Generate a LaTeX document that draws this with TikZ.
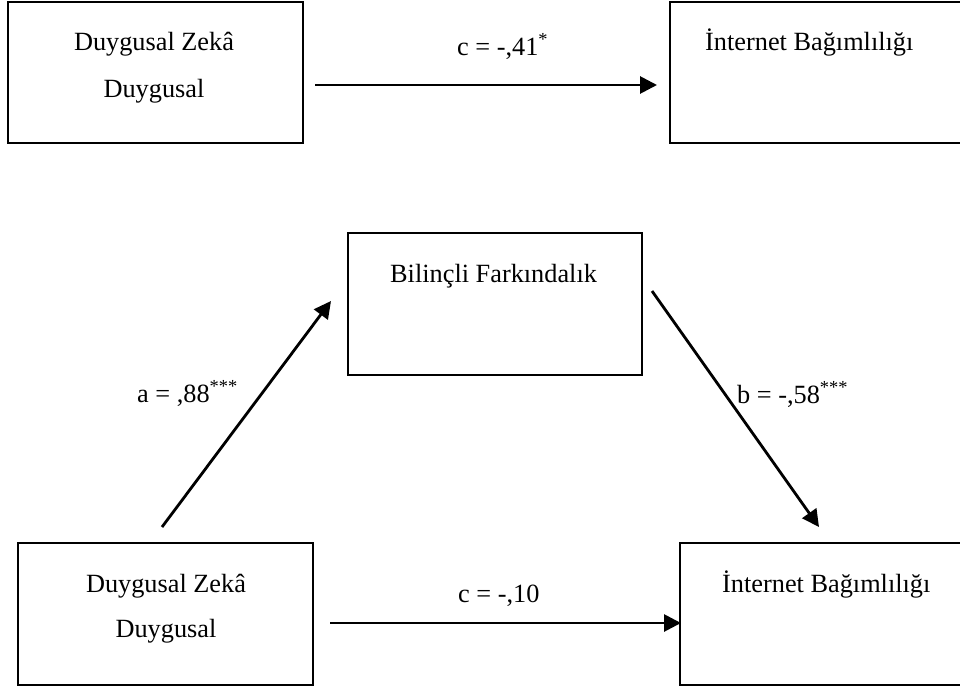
\documentclass[tikz,border=0pt]{standalone}
\usepackage{fontspec}
\setmainfont{Liberation Serif}
\usetikzlibrary{arrows.meta}
\begin{document}
\begin{tikzpicture}[x=1pt,y=-1pt,
  box/.style={draw=black,line width=2pt,fill=none},
  txt/.style={inner sep=0pt,anchor=base,font=\fontsize{26.3}{30}\selectfont},
  txtw/.style={inner sep=0pt,anchor=base west,font=\fontsize{26.3}{30}\selectfont},
  arr/.style={line width=2.8pt,-{Triangle[length=17pt,width=17pt]}}]
\useasboundingbox (0,0) rectangle (960,688);
\clip (0,0) rectangle (960,688);
\fill[white] (0,0) rectangle (960,688);
% top row
\draw[box] (8,1.5) rectangle (303,143);
\draw[box] (670,2) rectangle (1000,143);
\node[txt] (t1) at (154,50) {Duygusal Zekâ};
\node[txt] (t2) at (154,97) {Duygusal};
\node[txtw] (t3) at (705,50) {İnternet Bağımlılığı};
\coordinate (c1s) at (315,85);
\coordinate (c1e) at (657,85);
\draw[arr] (c1s) -- (c1e);
\node[txtw] (lc1) at (457,55) {c = -,41\textsuperscript{*}};
% middle
\draw[box] (348,233) rectangle (642,375);
\node[txtw] (t4) at (390,282) {Bilinçli Farkındalık};
% bottom row
\draw[box] (18,543) rectangle (313,685);
\draw[box] (680,543) rectangle (1000,685);
\node[txt] (t5) at (166,592) {Duygusal Zekâ};
\node[txt] (t6) at (166,637) {Duygusal};
\node[txtw] (t7) at (722,592) {İnternet Bağımlılığı};
\coordinate (c2s) at (330,623);
\coordinate (c2e) at (681,623);
\draw[arr] (c2s) -- (c2e);
\node[txtw] (lc2) at (458,602) {c = -,10};
% a and b paths
\coordinate (as) at (162,527);
\coordinate (ae) at (331,301);
\draw[arr] (as) -- (ae);
\node[txtw] (la) at (137,402) {a = ,88\textsuperscript{***}};
\coordinate (bs) at (652,291);
\coordinate (be) at (819,527);
\draw[arr] (bs) -- (be);
\node[txtw] (lb) at (737,403) {b = -,58\textsuperscript{***}};
\end{tikzpicture}
\end{document}
